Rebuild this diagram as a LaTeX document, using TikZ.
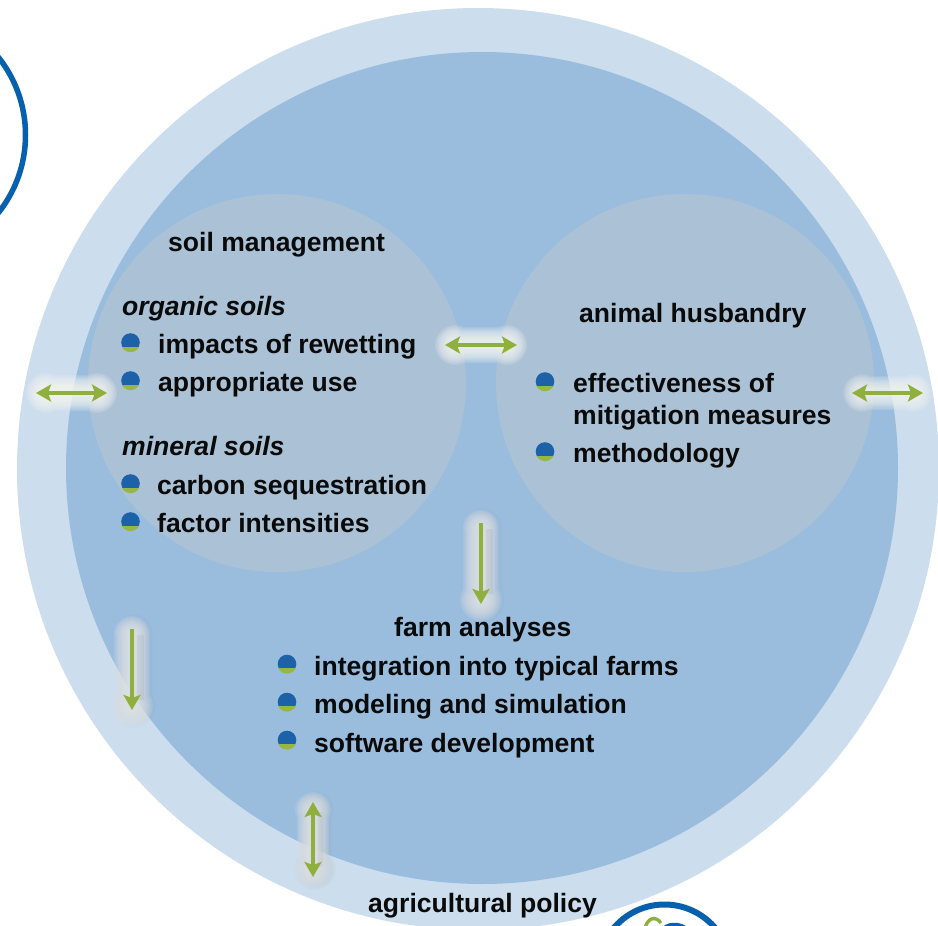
\documentclass[tikz,border=0pt]{standalone}
\usepackage{fontspec}
\setmainfont{Liberation Sans}
\usetikzlibrary{arrows.meta,calc}
\definecolor{ringblue}{HTML}{CCDDED}
\definecolor{innerblue}{HTML}{9ABDDD}
\definecolor{greyblue}{HTML}{ABC1D6}
\definecolor{strongblue}{HTML}{0660AD}
\definecolor{leaf}{HTML}{8FB03E}
\definecolor{dotgreen}{HTML}{98B742}
\definecolor{dotblue}{HTML}{1D62A8}
\definecolor{ink}{HTML}{0A0A0A}
\definecolor{halo}{HTML}{F6F7F2}
\definecolor{greyhalo}{HTML}{E2E5E8}
\tikzset{
  x=1pt,y=-1pt,
  txt/.style={font=\fontsize{26.55}{33}\selectfont\bfseries,text=ink,inner sep=0pt,anchor=base west},
  hd/.style={txt,font=\fontsize{26.55}{33}\selectfont\bfseries\itshape},
  garrow/.style={draw=leaf,line width=3.8pt,{Stealth[length=15pt,width=17pt,inset=3pt]}-{Stealth[length=15pt,width=17pt,inset=3pt]}},
  sarrow/.style={draw=leaf,line width=3.8pt,-{Stealth[length=15pt,width=17pt,inset=3pt]}},
}
% soft halo: from P to Q, half width W, end radii R1 and R2, offset, layer opacity
\newcommand{\softglow}[7]{%
  \foreach \r in {1,.93,.86,.79,.72,.65,.58,.51,.44,.37,.3,.23}{%
    \begin{scope}[transparency group,opacity=#7,shift={#6}]
      \draw[#3,line width=\r*2*#4 pt,line cap=round] (#1) -- (#2);
      \fill[#3] (#1) circle[radius=\r*#5];
      \fill[#3] (#2) circle[radius=\r*#5];
    \end{scope}}}
\newcommand{\softglowB}[8]{%
  \foreach \r in {1,.93,.86,.79,.72,.65,.58,.51,.44,.37,.3,.23}{%
    \begin{scope}[transparency group,opacity=#8,shift={#7}]
      \draw[#3,line width=\r*2*#4 pt,line cap=round] (#1) -- (#2);
      \fill[#3] (#1) circle[radius=\r*#5];
      \fill[#3] (#2) circle[radius=\r*#6];
    \end{scope}}}
\newcommand{\bulletdot}[2]{%
  \begin{scope}[shift={(#1,#2)}]
    \begin{scope}
      \clip (-11,-11) rectangle (11,3.6);
      \fill[dotblue] (0,0) circle[radius=9.3];
    \end{scope}
    \begin{scope}
      \clip (-11,4.9) rectangle (11,11);
      \fill[dotgreen] (0,0) circle[radius=9.7];
    \end{scope}
  \end{scope}}
\begin{document}
\begin{tikzpicture}
\useasboundingbox (0,0) rectangle (938,926);
\begin{scope}
\clip (0,0) rectangle (938,926);
\fill[ringblue] (478,469) circle[radius=461];
\fill[innerblue] (482,468) circle[radius=416];
\fill[greyblue] (277,383) circle[radius=189];
\fill[greyblue] (685,383) circle[radius=189];
\draw[strongblue,line width=5.5pt] (-99.5,135) circle[radius=125];
\draw[strongblue,line width=6pt] (664.5,971) circle[radius=66.5];
\draw[leaf,line width=3.4pt] (645,928) .. controls (648,917) and (656,916) .. (661,923);
\draw[strongblue,line width=3pt] (664,928) .. controls (668,923) and (680,923) .. (686,928);
\end{scope}

\coordinate (a1l) at (36,393); \coordinate (a1r) at (107,393);
\coordinate (a2l) at (445,345); \coordinate (a2r) at (517,345);
\coordinate (a3l) at (852,393); \coordinate (a3r) at (923,393);
\coordinate (a4t) at (481,523); \coordinate (a4b) at (481,604);
\coordinate (a5t) at (132,629); \coordinate (a5b) at (132,710);
\coordinate (a6t) at (313,802); \coordinate (a6b) at (313,877);

% halos of the horizontal arrows
\softglow{$(a1l)!10pt!(a1r)$}{$(a1r)!10pt!(a1l)$}{halo}{18}{20}{(1,0)}{.15}
\softglow{$(a2l)!10pt!(a2r)$}{$(a2r)!10pt!(a2l)$}{halo}{18}{20}{(1,0)}{.15}
\softglow{$(a3l)!10pt!(a3r)$}{$(a3r)!10pt!(a3l)$}{halo}{17}{19}{(1,0)}{.13}

% halos and shadows of the vertical arrows
\softglowB{$(a4t)+(2,4)$}{$(a4b)+(2,-4)$}{black!50}{19}{19}{22}{(2,2)}{.02}
\softglowB{$(a4t)+(0,5)$}{$(a4b)+(0,-4)$}{greyhalo}{18}{18}{21}{(1,0)}{.16}
\softglowB{$(a5t)+(2,4)$}{$(a5b)+(2,-4)$}{black!50}{19}{19}{22}{(2,2)}{.02}
\softglowB{$(a5t)+(0,5)$}{$(a5b)+(0,-4)$}{greyhalo}{18}{18}{21}{(1,0)}{.16}
\softglowB{$(a6t)+(2,8)$}{$(a6b)+(2,-8)$}{black!50}{17}{19}{21}{(2,2)}{.03}
\softglowB{$(a6t)+(0,8)$}{$(a6b)+(0,-8)$}{greyhalo}{16}{18}{19}{(1,0)}{.16}

% faint offset echo of the shafts
\fill[black,opacity=.04] ($(a4t)+(5,6)$) rectangle ($(a4b)+(12,-10)$);
\fill[black,opacity=.04] ($(a5t)+(5,6)$) rectangle ($(a5b)+(12,-10)$);
\fill[black,opacity=.03] ($(a6t)+(5,10)$) rectangle ($(a6b)+(10,-10)$);

\draw[garrow] (a1l) -- (a1r);
\draw[garrow] (a2l) -- (a2r);
\draw[garrow] (a3l) -- (a3r);
\draw[sarrow] (a4t) -- (a4b);
\draw[sarrow] (a5t) -- (a5b);
\draw[garrow] (a6t) -- (a6b);

\node[txt] (t1) at (168,251) {soil management};
\node[hd] (t2) at (122,315) {organic soils};
\node[txt] (t3) at (158,353) {impacts of rewetting};
\node[txt] (t4) at (158,391) {appropriate use};
\node[hd] (t5) at (122,455) {mineral soils};
\node[txt] (t6) at (157,494) {carbon sequestration};
\node[txt] (t7) at (157,532) {factor intensities};
\node[txt] (t8) at (579,322) {animal husbandry};
\node[txt] (t9) at (573,392) {effectiveness of};
\node[txt] (t10) at (573,424) {mitigation measures};
\node[txt] (t11) at (573,462) {methodology};
\node[txt] (t12) at (394,636) {farm analyses};
\node[txt] (t13) at (314,675) {integration into typical farms};
\node[txt] (t14) at (314,713) {modeling and simulation};
\node[txt] (t15) at (314,752) {software development};
\node[txt] (t16) at (368,912) {agricultural policy};

\bulletdot{130.5}{342.5}
\bulletdot{130.5}{380.5}
\bulletdot{130.5}{483.5}
\bulletdot{130.5}{521.5}
\bulletdot{545}{381.5}
\bulletdot{545}{451.5}
\bulletdot{287}{664}
\bulletdot{287}{702}
\bulletdot{287}{740}
\end{tikzpicture}
\end{document}
